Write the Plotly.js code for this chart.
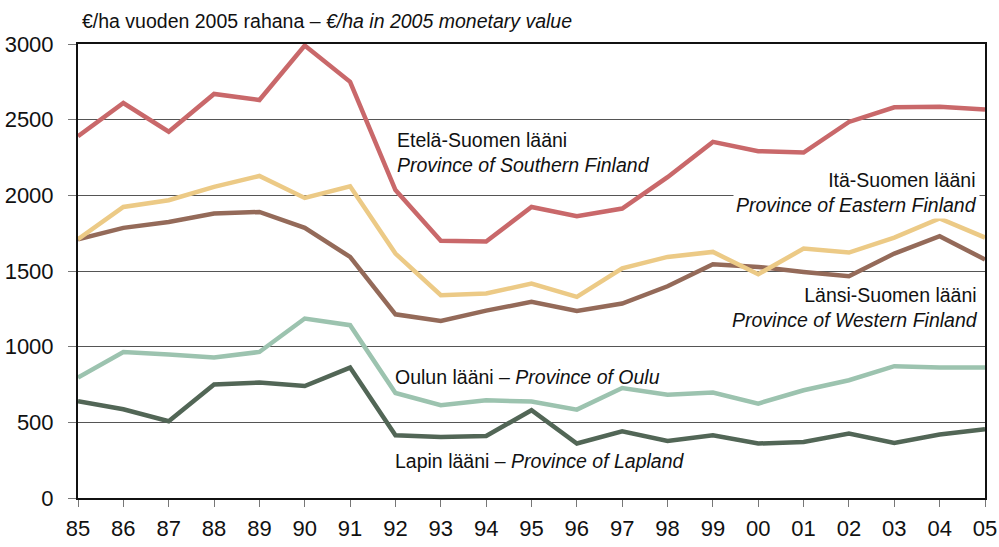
<!DOCTYPE html>
<html>
<head>
<meta charset="utf-8">
<script src="https://cdn.plot.ly/plotly-3.0.1.min.js"></script>
<style>html,body{margin:0;padding:0;background:#fff;}#chart{width:999px;height:547px;}</style>
</head>
<body>
<div id="chart"></div>
<script>
const years = [1985,1986,1987,1988,1989,1990,1991,1992,1993,1994,1995,1996,1997,1998,1999,2000,2001,2002,2003,2004,2005];
const yearLabels = ["85","86","87","88","89","90","91","92","93","94","95","96","97","98","99","00","01","02","03","04","05"];
const southern = [2390,2610,2420,2670,2630,2990,2750,2035,1700,1695,1923,1862,1913,2120,2353,2292,2283,2485,2582,2585,2567];
const eastern  = [1710,1923,1968,2056,2128,1983,2060,1615,1340,1351,1417,1329,1518,1593,1626,1479,1648,1622,1721,1847,1721];
const western  = [1710,1785,1824,1880,1890,1785,1593,1214,1170,1238,1296,1236,1285,1399,1545,1527,1494,1465,1615,1730,1576];
const oulu     = [796,965,948,928,965,1186,1142,694,613,646,637,584,727,683,697,624,712,778,871,862,862];
const lapland  = [639,586,507,750,763,740,862,414,403,410,580,360,441,377,414,360,370,426,364,419,454];

const FONT = "'Liberation Sans', Arial, sans-serif";

function tr(y, color) {
  return {x: years, y: y, type: 'scatter', mode: 'lines', line: {color: color, width: 4.5}, hoverinfo: 'skip'};
}
const data = [
  tr(lapland, '#526656'),
  tr(oulu, '#9cc3af'),
  tr(western, '#946a59'),
  tr(eastern, '#ecca86'),
  tr(southern, '#c9686a')
];

const annFont = {family: FONT, size: 19.5, color: '#111'};
const layout = {
  width: 999, height: 547,
  margin: {l: 78, r: 14, t: 44, b: 49},
  paper_bgcolor: '#fff', plot_bgcolor: '#fff',
  showlegend: false,
  font: {family: FONT, color: '#111'},
  xaxis: {
    range: [1985, 2005], tickmode: 'array', tickvals: years, ticktext: yearLabels,
    showgrid: false, zeroline: false,
    showline: true, linecolor: '#111', linewidth: 2, mirror: true,
    ticks: 'outside', ticklen: 7, tickcolor: '#777', tickwidth: 1,
    tickfont: {family: FONT, size: 22, color: '#111'}, ticklabelstandoff: 3
  },
  yaxis: {
    range: [0, 3000], tickmode: 'array', tickvals: [0,500,1000,1500,2000,2500,3000],
    showgrid: true, gridcolor: '#555', gridwidth: 1, zeroline: false,
    showline: true, linecolor: '#111', linewidth: 2, mirror: true,
    ticks: 'outside', ticklen: 8, tickcolor: '#777', tickwidth: 1,
    tickfont: {family: FONT, size: 22, color: '#111'}, ticklabelstandoff: 10
  },
  annotations: [
    {xref: 'paper', yref: 'paper', x: 0.002, y: 1.0, yshift: 23, xanchor: 'left', yanchor: 'middle', showarrow: false,
     text: '€/ha vuoden 2005 rahana – <i>€/ha in 2005 monetary value</i>', font: {family: FONT, size: 19.5, color: '#111'}},
    {xref: 'x', yref: 'y', x: 1992.0, y: 2285, xanchor: 'left', yanchor: 'middle', showarrow: false, align: 'left',
     text: 'Etelä-Suomen lääni<br><i>Province of Southern Finland</i>', font: annFont},
    {xref: 'paper', yref: 'y', x: 0.994, y: 2020, xanchor: 'right', yanchor: 'middle', showarrow: false, align: 'right',
     bgcolor: '#fff', borderpad: 2,
     text: 'Itä-Suomen lääni<br><i>Province of Eastern Finland</i>', font: annFont},
    {xref: 'paper', yref: 'y', x: 0.994, y: 1262, xanchor: 'right', yanchor: 'middle', showarrow: false, align: 'right',
     text: 'Länsi-Suomen lääni<br><i>Province of Western Finland</i>', font: annFont},
    {xref: 'x', yref: 'y', x: 1991.95, y: 800, xanchor: 'left', yanchor: 'middle', showarrow: false, align: 'left',
     text: 'Oulun lääni – <i>Province of Oulu</i>', font: annFont},
    {xref: 'x', yref: 'y', x: 1991.95, y: 245, xanchor: 'left', yanchor: 'middle', showarrow: false, align: 'left',
     text: 'Lapin lääni – <i>Province of Lapland</i>', font: annFont}
  ]
};
Plotly.newPlot('chart', data, layout, {staticPlot: true, displayModeBar: false});
</script>
</body>
</html>
